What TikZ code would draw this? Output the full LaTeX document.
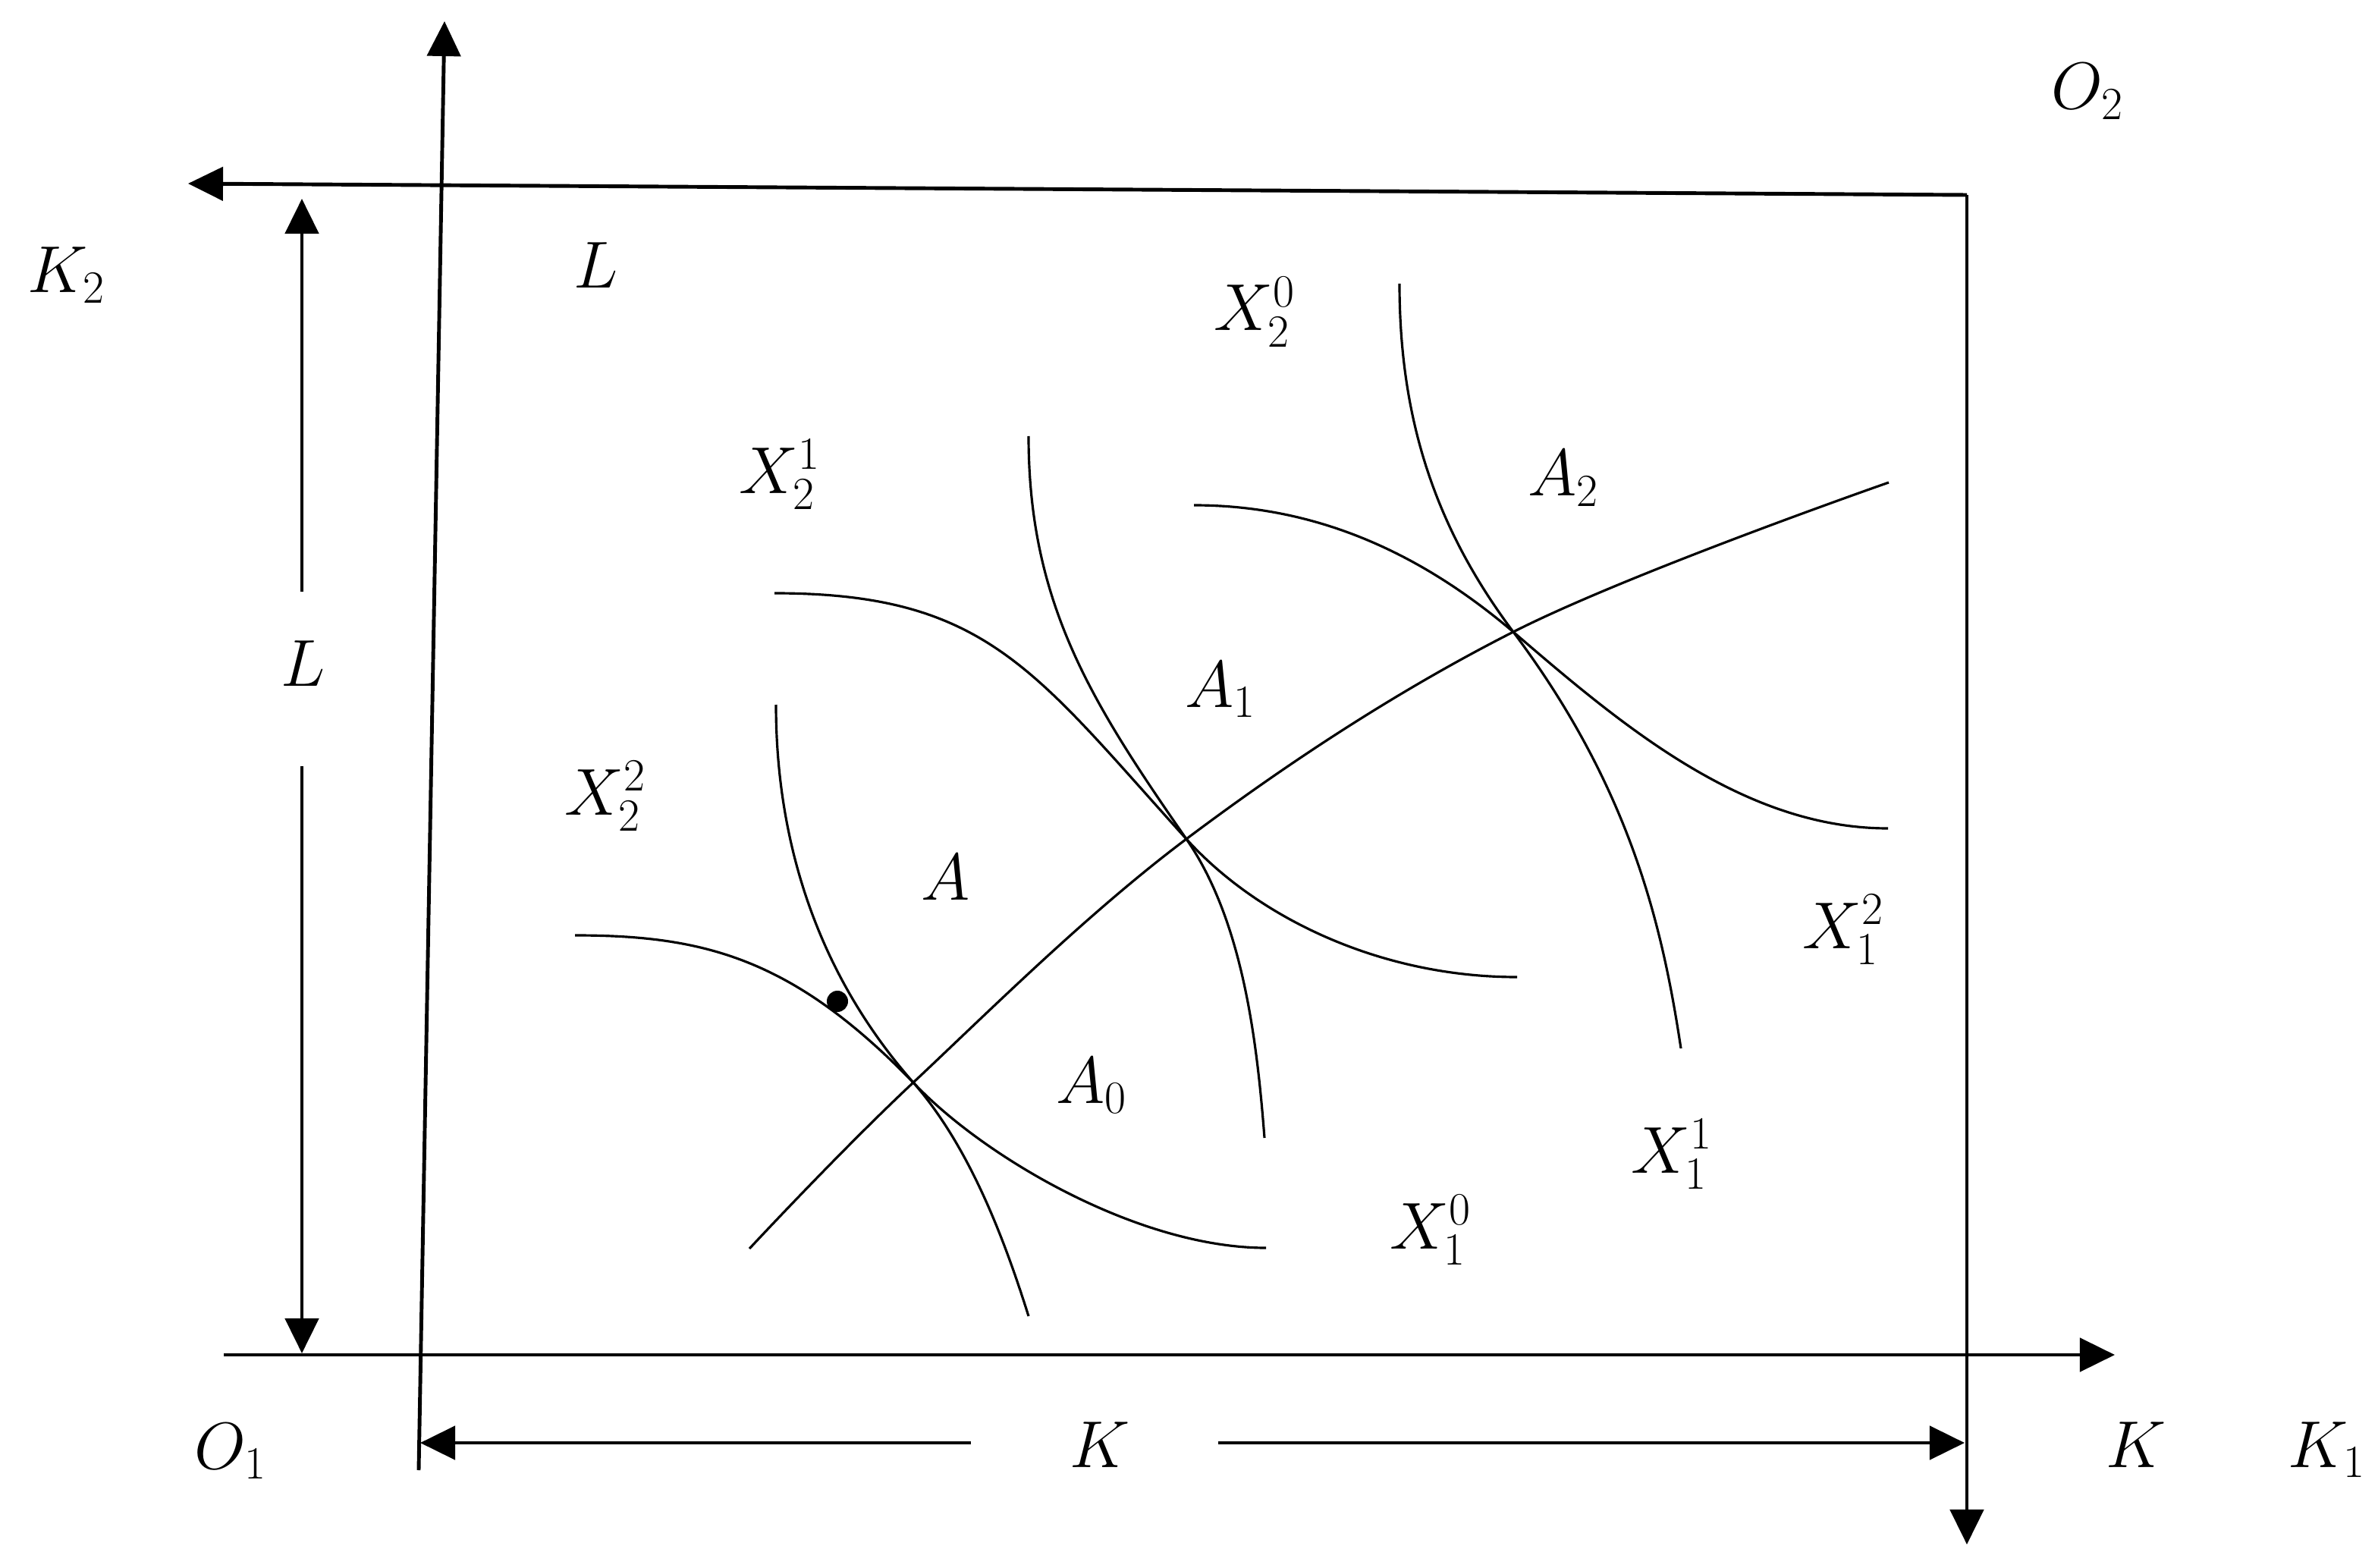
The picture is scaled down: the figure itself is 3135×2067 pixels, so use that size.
\documentclass[tikz,border=0pt]{standalone}
\usetikzlibrary{arrows.meta}
\DeclareMathSizes{24.88}{24.88}{17.28}{12}
\begin{document}
\begin{tikzpicture}[x=0.01cm,y=-0.01cm,
  tip/.style={-{Triangle[length=0.46cm,width=0.44cm]}},
  axisline/.style={line width=1.4pt,black},
  isoq/.style={line width=0.9pt,black},
  lab/.style={anchor=base west,inner sep=0pt,font=\fontsize{24.88}{30}\selectfont}]
\useasboundingbox (0,0) rectangle (3135,2067);
% coordinates
\coordinate (vbot) at (552,1938);
\coordinate (vtop) at (586,28);
\coordinate (corner) at (2593,257);
\coordinate (tleft) at (248,242);
\coordinate (rbot) at (2593,2036);
\coordinate (hleft) at (295,1786);
\coordinate (hright) at (2788,1786);
\coordinate (Ltop) at (398,262);
\coordinate (Lg1) at (398,780);
\coordinate (Lg2) at (398,1010);
\coordinate (Lbot) at (398,1784);
\coordinate (Kleft) at (554,1902);
\coordinate (Kg1) at (1280,1902);
\coordinate (Kg2) at (1606,1902);
\coordinate (Kright) at (2590,1902);
% intersection points
\coordinate (P0) at (1204,1427);
\coordinate (P1) at (1564,1106);
\coordinate (P2) at (1995,833);
% axes
\draw[axisline,tip] (vbot) -- (vtop);
\draw[axisline,tip] (corner) -- (tleft);
\draw[axisline,tip] (corner) -- (rbot);
\draw[axisline,tip] (hleft) -- (hright);
\draw[axisline,tip] (Lg1) -- (Ltop);
\draw[axisline,tip] (Lg2) -- (Lbot);
\draw[axisline,tip] (Kg1) -- (Kleft);
\draw[axisline,tip] (Kg2) -- (Kright);
% contract curve
\draw[isoq] plot[smooth,tension=0.6] coordinates {(988,1646) (P0) (P1) (P2) (2490,636)};
% X1 isoquants
\draw[isoq] (758,1233) .. controls (928,1233) and (1045,1263) .. (P0)
  .. controls (1294,1523) and (1499,1645) .. (1669,1645);
\draw[isoq] (1021,782) .. controls (1301,782) and (1363,884) .. (P1)
  .. controls (1658,1210) and (1820,1288) .. (2000,1288);
\draw[isoq] (1574,666) .. controls (1744,666) and (1881,736) .. (P2)
  .. controls (2139,957) and (2299,1092) .. (2489,1092);
% X2 isoquants
\draw[isoq] (1023,929) .. controls (1023,1100) and (1072,1277) .. (P0)
  .. controls (1277,1510) and (1323,1630) .. (1356,1735);
\draw[isoq] (1356,575) .. controls (1356,795) and (1439,926) .. (P1)
  .. controls (1638,1213) and (1657,1370) .. (1667,1500);
\draw[isoq] (1845,374) .. controls (1845,554) and (1893,697) .. (P2)
  .. controls (2151,1041) and (2192,1224) .. (2216,1382);
% dot
\fill (1104,1320) circle[radius=0.14cm];
% labels
\node[lab] (o2) at (2704,144) {$O_2$};
\node[lab] (k2) at (36,386) {$K_2$};
\node[lab] (ltop) at (756,380) {$L$};
\node[lab] (o1) at (256,1936) {$O_1$};
\node[lab] (kr) at (2776,1934) {$K$};
\node[lab] (k1) at (3016,1934) {$K_1$};
\node[lab] (x20) at (1600,436) {$X_2^0$};
\node[lab] (x21) at (974,650) {$X_2^1$};
\node[lab] (x22) at (744,1074) {$X_2^2$};
\node[lab] (a2) at (2014,654) {$A_2$};
\node[lab] (a1) at (1562,932) {$A_1$};
\node[lab] (a) at (1214,1186) {$A$};
\node[lab] (a0) at (1392,1454) {$A_0$};
\node[lab] (x12) at (2376,1250) {$X_1^2$};
\node[lab] (x11) at (2150,1546) {$X_1^1$};
\node[lab] (x10) at (1832,1646) {$X_1^0$};
\node[lab] (lleft) at (370,904) {$L$};
\node[lab] (kbot) at (1410,1934) {$K$};
\end{tikzpicture}
\end{document}
